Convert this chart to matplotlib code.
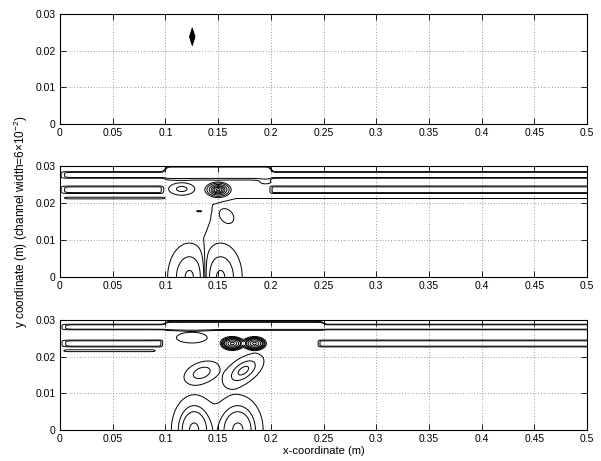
import matplotlib
matplotlib.use('Agg')
import matplotlib.pyplot as plt
import numpy as np

plt.rcParams['font.family'] = ['Liberation Sans', 'DejaVu Sans']
plt.rcParams['mathtext.default'] = 'regular'
plt.rcParams['contour.negative_linestyle'] = 'solid'

# ---- values ----
x_ticks = [0, 0.05, 0.1, 0.15, 0.2, 0.25, 0.3, 0.35, 0.4, 0.45, 0.5]
y_ticks = [0, 0.01, 0.02, 0.03]

# top panel: one small diamond shaped disturbance (x, y, sx, sy, amplitude)
top_spot = (0.1255, 0.0238, 0.0009, 0.00084, 5.0)
top_levels = [0.3, 0.5, 0.7, 1.0, 1.3, 1.7, 2.1, 2.6, 3.1, 3.7, 4.3]

# bands near the upper wall: y centre, width, amplitude, window lo, window hi, cut, shift, widen
mid_ridges = [
    (0.0276, 0.00087, 0.65, 0.100, 0.200, 0.0, 0.0006, 1.2),
    (0.0236, 0.00098, 0.65, 0.097, 0.200, 1.0, 0.0, 0.0),
]
# blobs: x, y, sx, sy, tilt, amplitude
mid_blobs = [
    (0.1500, 0.0236, 0.0068, 0.00115, 0.0, 5.5),
    (0.1155, 0.0238, 0.0118, 0.0016, 0.0, 0.6),
    (0.1950, 0.0257, 0.0080, 0.0008, 0.0, 0.3),
    (0.1580, 0.0165, 0.0090, 0.0026, -0.3, 0.36),
    (0.1320, 0.0178, 0.0077, 0.0005, 0.0, -0.22),
    (0.1230, 0.0, 0.0136, 0.0060, 0.0, -2.1),
    (0.1520, 0.0, 0.0136, 0.0060, 0.0, 2.1),
]
mid_wander_y = [0.0, 0.0105, 0.0124, 0.0155, 0.0196, 0.0210, 0.0225]
mid_wander_x = [0.1375, 0.136, 0.139, 0.143, 0.1455, 0.1637, 0.175]
mid_trough = (0.0213, 0.0003, -0.25, 0.004, 0.100)
mid_levels = [-2, -1, -0.3, 0, 0.3, 1, 2, 3, 4, 5, 6, 7]

bot_ridges = [
    (0.0281, 0.0008, 0.42, 0.100, 0.250, 0.0, 0.0003, 0.6),
    (0.0236, 0.00098, 0.42, 0.097, 0.245, 1.0, 0.0, 0.0),
]
bot_blobs = [
    (0.1635, 0.0236, 0.0065, 0.0011, 0.0, 4.0),
    (0.1845, 0.0236, 0.0065, 0.0011, 0.0, 4.0),
    (0.1250, 0.0252, 0.0200, 0.0020, 0.0, 0.34),
    (0.1345, 0.0156, 0.0125, 0.0024, 0.35, 0.30),
    (0.1740, 0.0162, 0.0135, 0.0032, 0.55, 0.40),
    (0.1270, 0.0, 0.0130, 0.0058, 0.0, 0.70),
    (0.1690, 0.0, 0.0145, 0.0058, 0.0, 0.70),
    (0.1480, 0.0, 0.0250, 0.0075, 0.0, 0.05),
]
bot_trough = (0.0216, 0.0003, -0.25, 0.004, 0.090)
bot_levels = [-0.3, 0, 0.15, 0.3, 0.6, 0.85, 1.5, 2.5, 3.5]

# ---- grid ----
x = np.linspace(0, 0.5, 1001)
y = np.linspace(0, 0.03, 301)
X, Y = np.meshgrid(x, y)


def step(z, w):
    return 0.5 * (1 + np.tanh(z / w))


def window(a, b, w=0.002):
    return step(X - a, w) * step(b - X, w)


def blob(x0, y0, sx, sy, rho, amp):
    dx = (X - x0) / sx
    dy = (Y - y0) / sy
    q = (dx * dx - 2 * rho * dx * dy + dy * dy) / (1 - rho * rho)
    return amp * np.exp(-q)


def ridge(yc, s, amp, lo, hi, cut, shift, widen):
    win = window(lo, hi)
    yc_e = yc + shift * win
    s_e = s * (1 + widen * win)
    return amp * (1 - cut * win) * np.exp(-((Y - yc_e) / s_e) ** 6) * (1 - np.exp(-X / 0.003))


def trough(yc, s, amp, lo, hi):
    return amp * window(lo, hi) * np.exp(-((Y - yc) / s) ** 2)


below = step(0.0213 - Y, 0.0002)

# top field
tx, ty, tsx, tsy, tamp = top_spot
F_top = tamp * np.exp(-(np.abs(X - tx) / tsx + np.abs(Y - ty) / tsy))

# middle field
xw = np.interp(Y, mid_wander_y, mid_wander_x)
F_mid = -0.2 * (1 - below) + below * 0.1 * np.tanh((X - xw) / 0.002)
F_mid = F_mid + trough(*mid_trough)
for r in mid_ridges:
    F_mid = F_mid + ridge(*r)
for b in mid_blobs:
    F_mid = F_mid + blob(*b)

# bottom field
F_bot = -0.2 * (1 - below) - 0.05 * below + trough(*bot_trough)
for r in bot_ridges:
    F_bot = F_bot + ridge(*r)
for b in bot_blobs:
    F_bot = F_bot + blob(*b)

fig = plt.figure(figsize=(6.01, 4.61), dpi=100)
positions = [[0.0998, 0.731, 0.877, 0.2386],
             [0.0998, 0.399, 0.877, 0.2408],
             [0.0998, 0.0672, 0.877, 0.2386]]
fields = [F_top, F_mid, F_bot]
levels = [top_levels, mid_levels, bot_levels]

axes = []
for pos, F, lev in zip(positions, fields, levels):
    ax = fig.add_axes(pos)
    ax.contour(X, Y, F, levels=lev, colors='k', linewidths=0.7)
    ax.set_xlim(0, 0.5)
    ax.set_ylim(0, 0.03)
    ax.set_xticks(x_ticks)
    ax.set_xticklabels(['%g' % v for v in x_ticks])
    ax.set_yticks(y_ticks)
    ax.set_yticklabels(['%g' % v for v in y_ticks])
    ax.grid(True, linestyle=(0, (1, 3)), color='0.25', linewidth=0.5)
    ax.tick_params(direction='in', top=True, right=True, length=4, width=0.6,
                   labelsize=7.5, pad=3)
    for sp in ax.spines.values():
        sp.set_linewidth(0.8)
    axes.append(ax)

axes[1].set_ylabel('y coordinate (m) (channel width=6$\\times$10$^{-2}$)', fontsize=8.5,
                   labelpad=4)
axes[2].set_xlabel('x-coordinate (m)', fontsize=8, labelpad=1)

fig.savefig('out.png', dpi=100)
